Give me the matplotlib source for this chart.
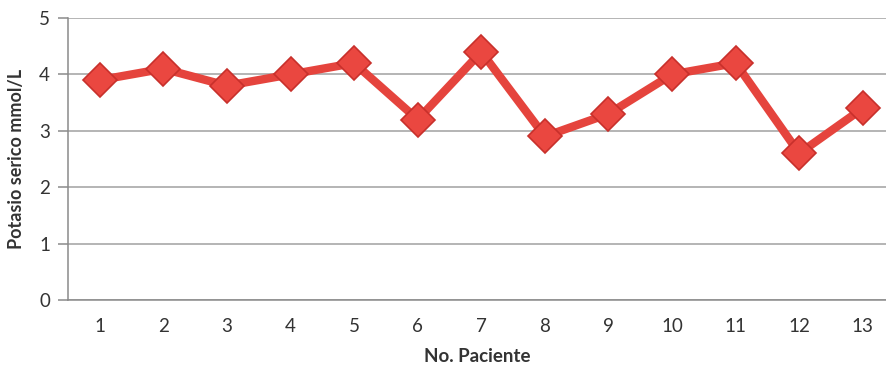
import numpy as np
from matplotlib import pyplot as plt

# potassium per patient
pacientes = list(range(1, 14))
potasio = [3.9, 4.1, 3.8, 4.0, 4.2, 3.2, 4.4, 2.9, 3.3, 4.0, 4.2, 2.6, 3.4]
yticks = [0, 1, 2, 3, 4, 5]

plt.rcParams['font.family'] = ['Lato', 'DejaVu Sans']

fig = plt.figure(figsize=(8.87, 3.74), dpi=100)
ax = fig.add_axes([68 / 887, 74 / 374, 1 - 68 / 887, 282 / 374])

ax.plot(pacientes, potasio, color='#E5443D', linewidth=6, marker='D',
        markersize=17, markerfacecolor='#EA4740', markeredgecolor='#C8302B',
        markeredgewidth=1.2, solid_joinstyle='miter', zorder=3)

ax.set_xlim(0.5, 13.38)
ax.set_ylim(0, 5)
ax.set_yticks(yticks)
ax.set_xticks(pacientes)
ax.grid(axis='y', color='#A0A0A0', linewidth=1.1)
ax.set_axisbelow(True)

for s in ['top', 'right']:
    ax.spines[s].set_visible(False)
ax.spines['left'].set_color('#8A8A8A')
ax.spines['bottom'].set_color('#8A8A8A')
ax.spines['left'].set_linewidth(1.1)
ax.spines['bottom'].set_linewidth(1.1)
ax.tick_params(axis='y', length=7, width=1.1, color='#8A8A8A', labelsize=13.5,
               labelcolor='#333333', pad=6)
ax.tick_params(axis='x', length=0, labelsize=13.5, labelcolor='#333333', pad=13)

ax.set_ylabel('Potasio serico mmol/L', fontsize=13, fontweight='bold',
              color='#333333', labelpad=10)
ax.set_xlabel('No. Paciente', fontsize=13.5, fontweight='bold',
              color='#333333', labelpad=9)

fig.savefig('out.png', dpi=100)
